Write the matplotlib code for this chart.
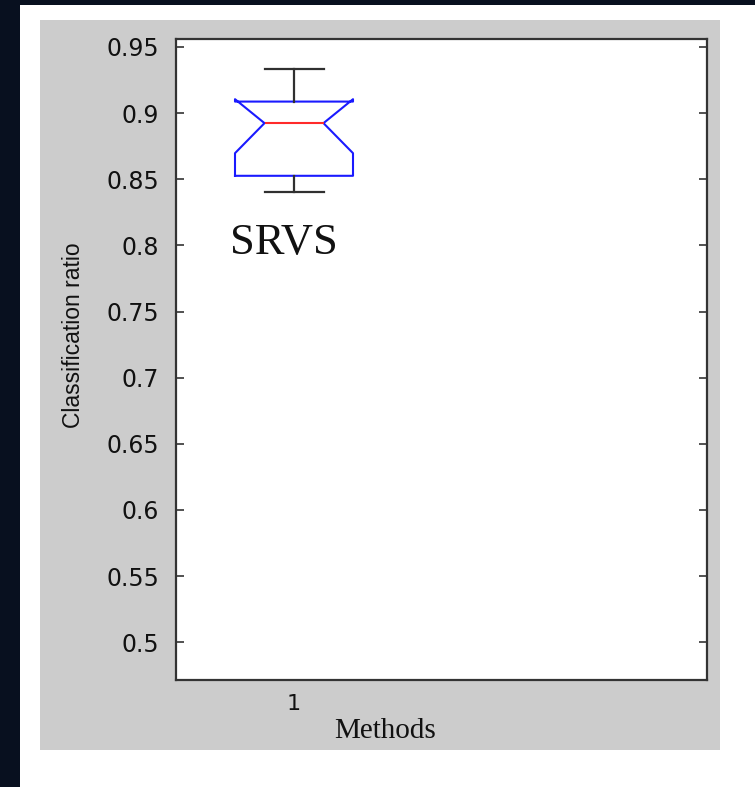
import matplotlib
matplotlib.use("Agg")
import matplotlib.pyplot as plt
from matplotlib.patches import Rectangle

# Values
method_label = "SRVS"
positions = [1]
whisker_low = [0.8407]
q1 = [0.8526]
median = [0.8924]
q3 = [0.9087]
whisker_high = [0.9334]
notch_low = [0.8697]
notch_high = [0.9105]
ytick_values = [0.5, 0.55, 0.6, 0.65, 0.7, 0.75, 0.8, 0.85, 0.9, 0.95]
ytick_labels = ["0.5", "0.55", "0.6", "0.65", "0.7", "0.75", "0.8", "0.85", "0.9", "0.95"]
xtick_labels = ["1"]

W, H = 755, 787
fig = plt.figure(figsize=(W / 100, H / 100), dpi=100)
fig.patch.set_facecolor("white")


def px_rect(x0, y0, x1, y1, color):
    # rectangle given in pixel coords (origin top-left), kept behind the axes
    fig.patches.append(Rectangle((x0 / W, 1 - y1 / H), (x1 - x0) / W, (y1 - y0) / H,
                                 transform=fig.transFigure, facecolor=color,
                                 edgecolor="none", zorder=-10))


# dark frame strips and grey panel
px_rect(0, 0, W, 5, "#08101f")
px_rect(0, 0, 20, H, "#08101f")
px_rect(40, 20, 720, 750, "#cccccc")

ax = fig.add_axes([176 / W, 1 - 680 / H, 531 / W, 641 / H])
ax.set_zorder(5)
ax.set_facecolor("white")

stats = []
for i in range(len(positions)):
    stats.append({
        "whislo": whisker_low[i], "q1": q1[i], "med": median[i], "q3": q3[i],
        "whishi": whisker_high[i], "cilo": notch_low[i], "cihi": notch_high[i],
        "fliers": [],
    })

ax.bxp(stats, positions=positions, widths=0.5, shownotches=True, showfliers=False,
       boxprops=dict(color="#1a1aff", linewidth=1.5),
       medianprops=dict(color="#ff2a2a", linewidth=1.5),
       whiskerprops=dict(color="#303030", linewidth=1.6),
       capprops=dict(color="#303030", linewidth=1.6))

ax.text(positions[0] - 0.045, 0.8015, method_label, fontsize=32, family="Liberation Serif",
        ha="center", va="center", color="#111111")

ax.set_xlim(0.5, 2.75)
ax.set_ylim(0.4715, 0.956)
ax.set_yticks(ytick_values)
ax.set_yticklabels(ytick_labels, fontsize=17, family="DejaVu Sans", color="#111111")
ax.set_xticks(positions)
ax.set_xticklabels(xtick_labels, fontsize=16, family="DejaVu Sans", color="#111111")
ax.tick_params(axis="y", direction="in", length=6, width=1.2, right=True, pad=12,
               color="#333333")
ax.tick_params(axis="x", length=0, pad=10)

for s in ax.spines.values():
    s.set_linewidth(1.6)
    s.set_color("#333333")

ax.set_ylabel("Classification ratio", fontsize=16.5, family="Liberation Sans", color="#111111")
ax.yaxis.set_label_coords((85 - 176) / 531, (680 - 335) / 641)
ax.set_xlabel("Methods", fontsize=21, family="Liberation Serif", color="#111111")
ax.xaxis.set_label_coords((385 - 176) / 531, -(718 - 680) / 641)

fig.savefig("out.png", dpi=100, facecolor=fig.get_facecolor())
